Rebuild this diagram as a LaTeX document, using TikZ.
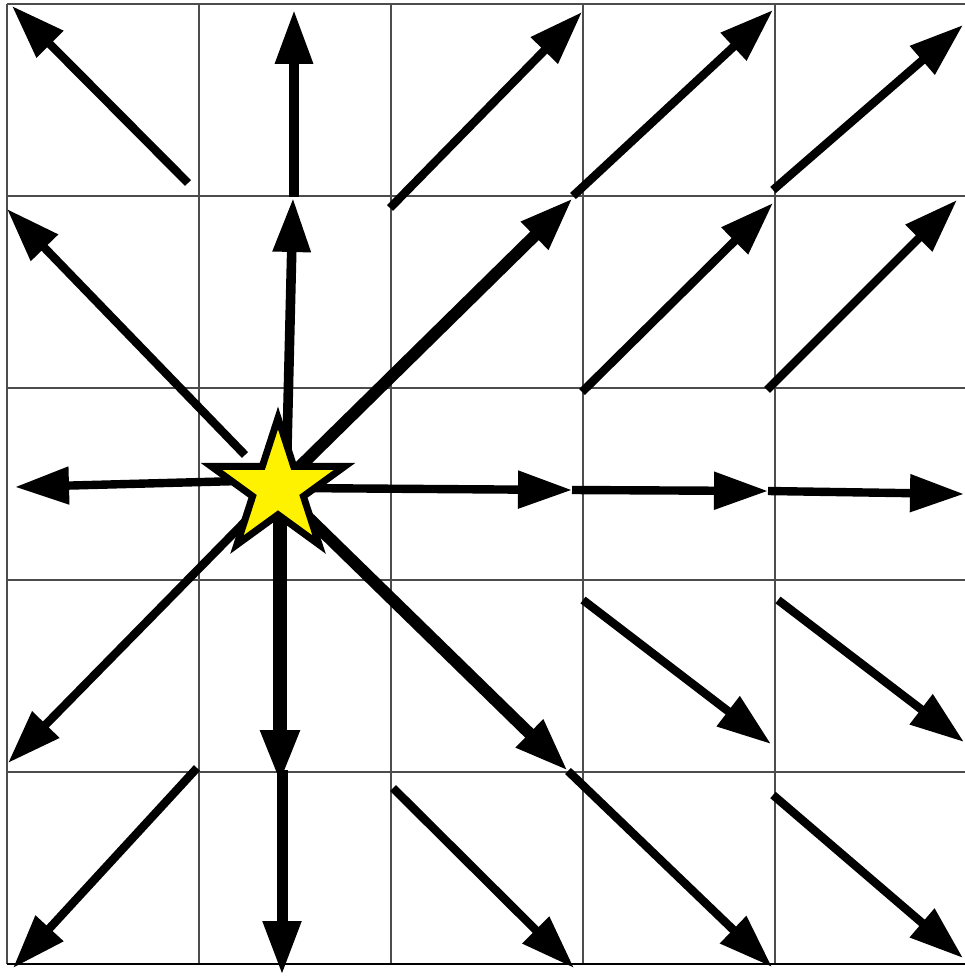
\documentclass[tikz,border=0pt]{standalone}
\usetikzlibrary{arrows.meta}
\begin{document}
\begin{tikzpicture}[x=1pt,y=-1pt,
  gridline/.style={draw=black!70, line width=1.4pt},
  vec/.style={draw=black, line width=8.4pt, line cap=butt, -{Triangle[length=54pt,width=36pt]}},
  midvec/.style={vec, line width=9.6pt},
  thickvec/.style={vec, line width=12pt},
  starline/.style={draw=black, line width=7pt, line join=miter, fill=yellow}]
\useasboundingbox (0,0) rectangle (964,976);
% grid
\foreach \x in {7,199,391,583,775} \draw[gridline] (\x,4) -- (\x,964);
\foreach \y in {4,196,388,580,772} \draw[gridline] (7,\y) -- (967,\y);
\draw[draw=black, line width=1.6pt] (7,964) -- (967,964);
% coordinates
\coordinate (c0) at (278,488);
\coordinate (a1s) at (188,183); \coordinate (a1e) at (12,6);
\coordinate (a2s) at (294,197); \coordinate (a2e) at (294,10);
\coordinate (a3s) at (286,488); \coordinate (a3e) at (293,198);
\coordinate (a4s) at (245,455); \coordinate (a4e) at (7,209);
\coordinate (a5s) at (390,208); \coordinate (a5e) at (582,12);
\coordinate (a6s) at (573,196); \coordinate (a6e) at (773,10);
\coordinate (a7e) at (573,198);
\coordinate (a8s) at (773,190); \coordinate (a8e) at (963,25);
\coordinate (a9s) at (582,392); \coordinate (a9e) at (773,203);
\coordinate (a10s) at (767,390); \coordinate (a10e) at (957,200);
\coordinate (a11s) at (278,480); \coordinate (a11e) at (15,487);
\coordinate (a12s) at (290,488); \coordinate (a12e) at (572,490);
\coordinate (a13e) at (768,491);
\coordinate (a14e) at (964,494);
\coordinate (a15e) at (8,763);
\coordinate (a16s) at (197,768); \coordinate (a16e) at (13,968);
\coordinate (a17s) at (280,488); \coordinate (a17e) at (280,784);
\coordinate (a18s) at (282,770); \coordinate (a18e) at (282,975);
\coordinate (a19e) at (568,771);
\coordinate (a20e) at (772,967);
\coordinate (a21s) at (393,788); \coordinate (a21e) at (574,968);
\coordinate (a22s) at (583,600); \coordinate (a22e) at (771,744);
\coordinate (a23s) at (778,600); \coordinate (a23e) at (964,742);
\coordinate (a24s) at (773,795); \coordinate (a24e) at (963,958);
% arrows
\draw[vec] (a1s) -- (a1e);
\draw[midvec] (a2s) -- (a2e);
\draw[midvec] (a3s) -- (a3e);
\draw[vec] (a4s) -- (a4e);
\draw[vec] (a5s) -- (a5e);
\draw[vec] (a6s) -- (a6e);
\draw[thickvec] (c0) -- (a7e);
\draw[vec] (a8s) -- (a8e);
\draw[vec] (a9s) -- (a9e);
\draw[vec] (a10s) -- (a10e);
\draw[vec] (a11s) -- (a11e);
\draw[vec] (a12s) -- (a12e);
\draw[vec] (a12e) -- (a13e);
\draw[vec] (a13e) -- (a14e);
\draw[vec] (c0) -- (a15e);
\draw[vec] (a16s) -- (a16e);
\draw[vec, line width=14pt] (a17s) -- (a17e);
\draw[vec, line width=11pt] (a18s) -- (a18e);
\draw[thickvec] (c0) -- (a19e);
\draw[vec] (a19e) -- (a20e);
\draw[vec] (a21s) -- (a21e);
\draw[vec] (a22s) -- (a22e);
\draw[vec] (a23s) -- (a23e);
\draw[vec] (a24s) -- (a24e);
% star
\draw[starline] (278,418) -- (293.7,466.4) -- (344.6,466.4) -- (303.4,496.3)
  -- (319.1,544.6) -- (278,514.7) -- (236.9,544.6) -- (252.6,496.3)
  -- (211.4,466.4) -- (262.3,466.4) -- cycle;
\end{tikzpicture}
\end{document}
